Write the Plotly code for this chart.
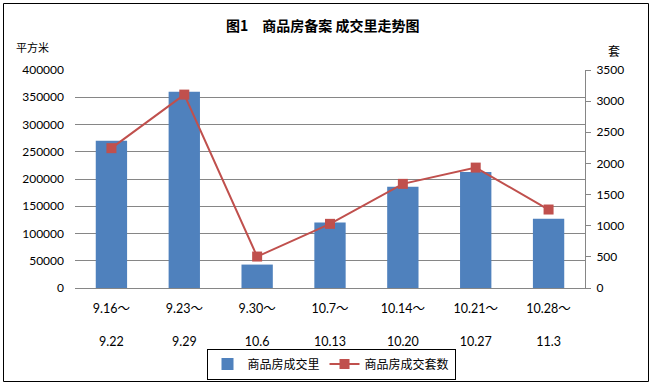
import plotly.graph_objects as go

cat_start = ["9.16～", "9.23～", "9.30～", "10.7～", "10.14～", "10.21～", "10.28～"]
cat_end = ["9.22", "9.29", "10.6", "10.13", "10.20", "10.27", "11.3"]
area = [270000, 360000, 43000, 120000, 186000, 213000, 127000]
units = [2245, 3105, 505, 1030, 1672, 1933, 1260]

W, H = 651, 385
L, R, T, B = 75, 66, 70, 97
pw, ph = W - L - R, H - T - B

def px_x(p):
    return (p - L) / pw

def px_y(p):
    return (H - B - p) / ph

xs = list(range(len(cat_start)))
ticktext = [f"{a}<br><br>{b}" for a, b in zip(cat_start, cat_end)]

fig = go.Figure()
fig.add_trace(go.Bar(
    x=xs, y=area, name="商品房成交里",
    marker=dict(color="#4F81BD", line=dict(width=0)),
    width=0.43,
))
fig.add_trace(go.Scatter(
    x=xs, y=units, name="商品房成交套数", yaxis="y2",
    mode="lines+markers",
    line=dict(color="#C0504D", width=2),
    marker=dict(symbol="square", size=10, color="#C0504D"),
))

fig.update_layout(
    width=W, height=H,
    margin=dict(l=L, r=R, t=T, b=B, autoexpand=False),
    paper_bgcolor="white", plot_bgcolor="white",
    font=dict(family="Lato, Noto Sans CJK SC, sans-serif", size=12, color="#000000"),
    showlegend=True,
    legend=dict(
        orientation="h", x=px_x(331), xanchor="center", y=px_y(364), yanchor="middle",
        bordercolor="#000000", borderwidth=1, bgcolor="white",
        font=dict(family="Noto Sans CJK SC, sans-serif", size=12),
        itemwidth=30, tracegroupgap=0,
    ),
    xaxis=dict(
        range=[-0.5, 6.5], tickmode="array", tickvals=xs, ticktext=ticktext,
        showgrid=False, showline=True, linecolor="#868686", linewidth=1,
        ticks="", ticklabelstandoff=9, zeroline=False, automargin=False,
        tickfont=dict(size=12.5),
    ),
    yaxis=dict(
        range=[0, 400000], dtick=50000, tick0=0, tickformat="d",
        showgrid=True, gridcolor="#868686", gridwidth=1,
        showline=False, ticks="", zeroline=False, automargin=False,
        ticklabelstandoff=10, tickfont=dict(size=12),
    ),
    yaxis2=dict(
        range=[0, 3500], dtick=500, tick0=0, overlaying="y", side="right",
        tickformat="d",
        showgrid=False, showline=True, linecolor="#868686", linewidth=1,
        ticks="outside", ticklen=5, tickcolor="#868686", zeroline=False,
        ticklabelstandoff=3, tickfont=dict(size=12), automargin=False,
    ),
    bargap=0.57,
)

fig.add_annotation(text="<b>图1　商品房备案 成交里走势图</b>", xref="paper", yref="paper",
                   x=px_x(322), y=px_y(25), showarrow=False, xanchor="center", yanchor="middle",
                   font=dict(family="Noto Sans CJK SC, sans-serif", size=14, color="#000000"))
fig.add_annotation(text="平方米", xref="paper", yref="paper",
                   x=px_x(14), y=px_y(47), showarrow=False, xanchor="left", yanchor="middle",
                   font=dict(family="Noto Sans CJK SC, sans-serif", size=11, color="#000000"))
fig.add_annotation(text="套", xref="paper", yref="paper",
                   x=px_x(614), y=px_y(51), showarrow=False, xanchor="center", yanchor="middle",
                   font=dict(family="Noto Sans CJK SC, sans-serif", size=12, color="#000000"))

fig.add_shape(type="rect", xref="paper", yref="paper",
              x0=px_x(3.5), x1=px_x(648.5), y0=px_y(381.5), y1=px_y(3.5),
              line=dict(color="#000000", width=1), fillcolor="rgba(0,0,0,0)", layer="above")

fig.write_html("out.html", config={"displayModeBar": False},
               post_script="document.body.style.margin='0px';")
